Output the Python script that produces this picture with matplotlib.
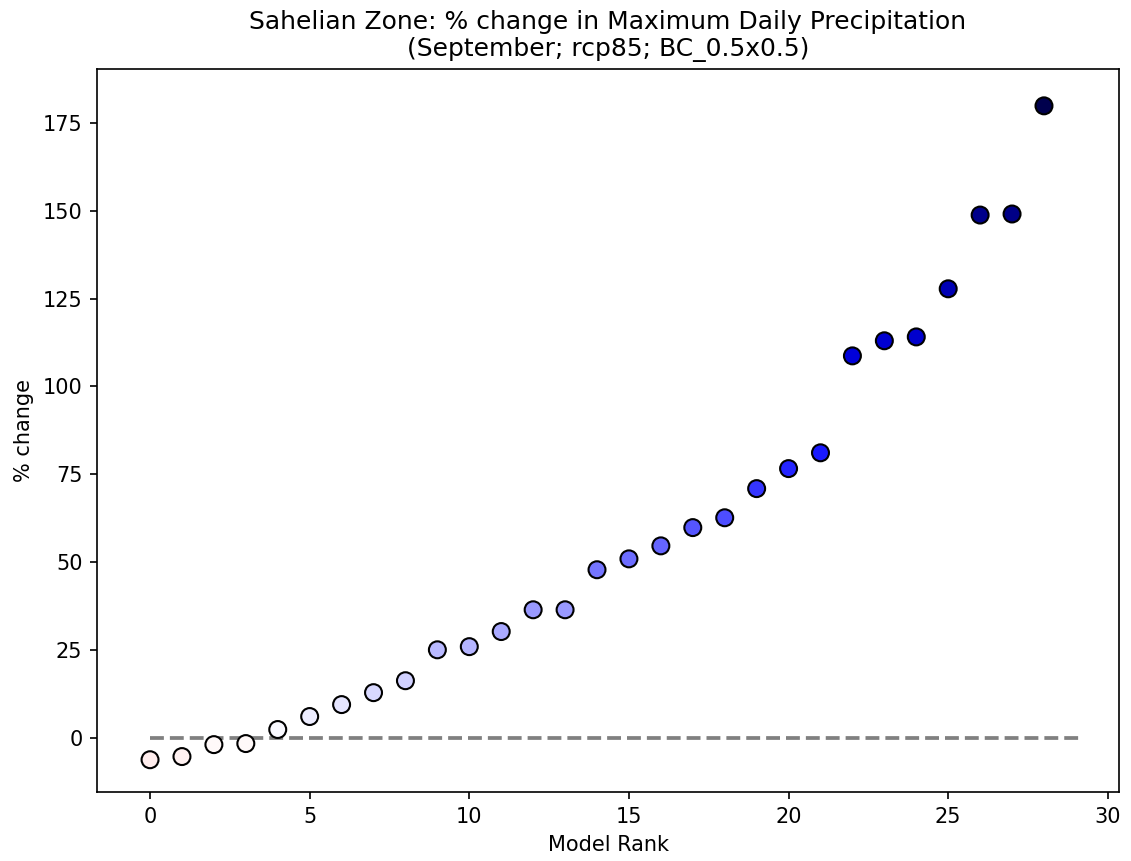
import numpy as np
import matplotlib
matplotlib.use("Agg")
import matplotlib.pyplot as plt

# model ranks and % change values
rank = list(range(29))
pct_change = [-6.3, -5.4, -2.0, -1.7, 2.3, 6.0, 9.4, 12.8, 16.2, 25.0,
              25.9, 30.2, 36.4, 36.4, 47.8, 50.9, 54.6, 59.8, 62.6, 70.9,
              76.6, 81.1, 108.7, 113.0, 114.1, 127.8, 148.8, 149.1, 179.9]

title = "Sahelian Zone: % change in Maximum Daily Precipitation\n(September; rcp85; BC_0.5x0.5)"

fig = plt.figure(figsize=(1131 / 150, 861 / 150), dpi=150)
ax = fig.add_axes([0.0858, 0.0801, 0.9036, 0.8398])

vmax = np.max(np.abs(pct_change))
ax.hlines(0, 0, len(rank) + 0.1, colors='grey', linestyles='--', lw=1.8, zorder=1)
ax.scatter(rank, pct_change, c=pct_change, cmap='seismic_r', vmin=-vmax, vmax=vmax,
           s=66, edgecolors='black', linewidths=1.0, zorder=2)

ax.set_xlim(-1.66, 30.35)
ax.set_ylim(-15.5, 190.4)
ax.set_xticks([0, 5, 10, 15, 20, 25, 30])
ax.set_yticks([0, 25, 50, 75, 100, 125, 150, 175])
ax.set_xlabel("Model Rank")
ax.set_ylabel("% change")
ax.set_title(title)

fig.savefig("out.png", dpi=150)
